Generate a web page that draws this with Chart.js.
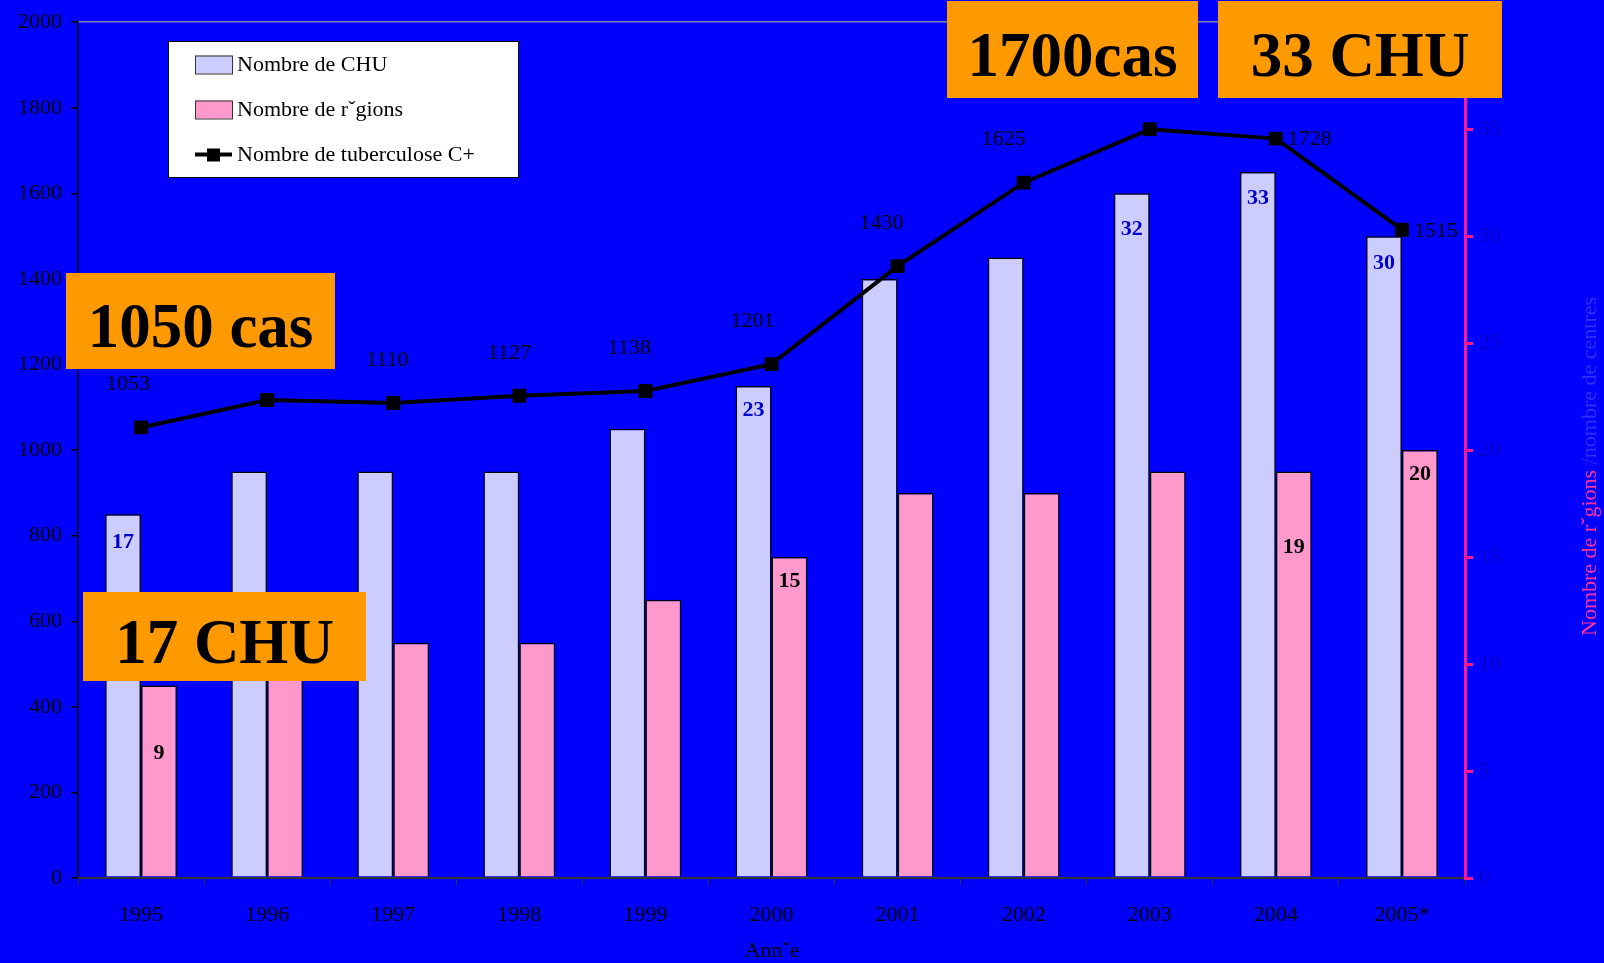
<!DOCTYPE html>
<html>
<head>
<meta charset="utf-8">
<script src="https://cdn.jsdelivr.net/npm/chart.js@4/dist/chart.umd.min.js"></script>
<style>
html, body { margin: 0; padding: 0; background: #0000ff; overflow: hidden; }
</style>
</head>
<body>
<canvas id="tbChart" width="1604" height="963"></canvas>
<script>
// Data
const years = ['1995', '1996', '1997', '1998', '1999', '2000', '2001', '2002', '2003', '2004', '2005*'];
const nbCHU = [17, 19, 19, 19, 21, 23, 28, 29, 32, 33, 30];
const nbRegions = [9, 10, 11, 11, 13, 15, 18, 18, 19, 19, 20];
const nbTuberculose = [1053, 1117, 1110, 1127, 1138, 1201, 1430, 1625, 1750, 1728, 1515];

// which values carry a printed label
const chuLabels = [17, null, null, null, null, 23, null, null, 32, 33, 30];
const regionLabels = [9, null, null, null, null, 15, null, null, null, 19, 20];

const leftTicks = [0, 200, 400, 600, 800, 1000, 1200, 1400, 1600, 1800, 2000];
const rightTicks = [0, 5, 10, 15, 20, 25, 30, 35, 40];

const SERIF = '"Liberation Serif", "Times New Roman", serif';
const CHU_COLOR = '#ccccff';
const REG_COLOR = '#ff99cc';
const BG = '#0000ff';
const ORANGE = '#ff9900';

// label placement (style only)
const chuLabelDy = [28, 0, 0, 0, 0, 24, 0, 0, 36, 26, 27];
const regionLabelDy = [68, 0, 0, 0, 0, 24, 0, 0, 0, 76, 24];
const lineLabelDx = [-13, -8, -6, -10, -16, -19, -16, -20, -15, 12, 12];
const lineLabelSide = ['above', 'above', 'above', 'above', 'above', 'above', 'above', 'above', 'above', 'right', 'right'];

const callouts = [
    { text: '1050 cas', x: 66, y: 273, w: 269, h: 96 },
    { text: '17 CHU', x: 83, y: 592, w: 283, h: 89 },
    { text: '1700cas', x: 947, y: 1, w: 251, h: 97 },
    { text: '33 CHU', x: 1218, y: 1, w: 284, h: 97 }
];

const bgPlugin = {
    id: 'bg',
    beforeDraw(chart) {
        const ctx = chart.ctx;
        ctx.save();
        ctx.fillStyle = BG;
        ctx.fillRect(0, 0, chart.width, chart.height);
        ctx.restore();
    }
};

const labelPlugin = {
    id: 'valueLabels',
    afterDatasetsDraw(chart) {
        const ctx = chart.ctx;
        ctx.save();
        ctx.textAlign = 'center';
        ctx.textBaseline = 'middle';

        // CHU bar labels
        ctx.font = 'bold 22px ' + SERIF;
        ctx.fillStyle = '#0000cc';
        chart.getDatasetMeta(0).data.forEach((bar, i) => {
            if (chuLabels[i] == null) return;
            ctx.fillText(String(chuLabels[i]), bar.x, bar.y + chuLabelDy[i]);
        });

        // regions bar labels
        ctx.fillStyle = '#000';
        chart.getDatasetMeta(1).data.forEach((bar, i) => {
            if (regionLabels[i] == null) return;
            ctx.fillText(String(regionLabels[i]), bar.x, bar.y + regionLabelDy[i]);
        });

        // line labels
        ctx.font = '22px ' + SERIF;
        chart.getDatasetMeta(2).data.forEach((pt, i) => {
            if (lineLabelSide[i] === 'right') {
                ctx.textAlign = 'left';
                ctx.fillText(String(nbTuberculose[i]), pt.x + lineLabelDx[i], pt.y + 1);
            } else {
                ctx.textAlign = 'center';
                ctx.fillText(String(nbTuberculose[i]), pt.x + lineLabelDx[i], pt.y - 43);
            }
        });
        ctx.restore();
    },
    afterDraw(chart) {
        const ctx = chart.ctx;
        ctx.save();

        // legend box
        ctx.fillStyle = '#fff';
        ctx.fillRect(168, 41, 350, 136);
        ctx.strokeStyle = '#000';
        ctx.lineWidth = 1;
        ctx.strokeRect(168.5, 41.5, 350, 136);

        const rows = [64.5, 109.5, 154.5];
        const names = ['Nombre de CHU', 'Nombre de rˇgions', 'Nombre de tuberculose C+'];
        ctx.font = '22px ' + SERIF;
        ctx.textAlign = 'left';
        ctx.textBaseline = 'middle';
        [CHU_COLOR, REG_COLOR].forEach((c, i) => {
            ctx.fillStyle = c;
            ctx.fillRect(195, rows[i] - 9, 37, 18);
            ctx.strokeStyle = '#333';
            ctx.strokeRect(195.5, rows[i] - 8.5, 37, 18);
        });
        ctx.strokeStyle = '#000';
        ctx.lineWidth = 4;
        ctx.beginPath();
        ctx.moveTo(195, rows[2]);
        ctx.lineTo(232, rows[2]);
        ctx.stroke();
        ctx.fillStyle = '#000';
        ctx.fillRect(207, rows[2] - 6, 13, 13);
        names.forEach((n, i) => {
            ctx.fillStyle = '#000';
            ctx.fillText(n, 237, rows[i] + 1);
        });

        // axis titles
        ctx.fillStyle = '#000';
        ctx.textAlign = 'center';
        ctx.fillText('Annˇe', 772, 951);

        ctx.save();
        ctx.translate(1590, 636);
        ctx.rotate(-Math.PI / 2);
        ctx.textAlign = 'left';
        const part1 = 'Nombre de rˇgions';
        ctx.fillStyle = '#ff3399';
        ctx.fillText(part1, 0, 0);
        const w1 = ctx.measureText(part1 + ' ').width;
        ctx.fillStyle = '#3030ff';
        ctx.fillText('/nombre de centres', w1, 0);
        ctx.restore();

        // orange callouts on top of everything
        ctx.font = 'bold 63px ' + SERIF;
        ctx.textAlign = 'center';
        ctx.textBaseline = 'alphabetic';
        callouts.forEach(b => {
            ctx.fillStyle = ORANGE;
            ctx.fillRect(b.x, b.y, b.w, b.h);
            ctx.fillStyle = '#000';
            ctx.fillText(b.text, b.x + b.w / 2, b.y + b.h / 2 + 26);
        });
        ctx.restore();
    }
};

const ctx = document.getElementById('tbChart').getContext('2d');
new Chart(ctx, {
    type: 'bar',
    data: {
        labels: years,
        datasets: [
            {
                label: 'Nombre de CHU',
                data: nbCHU,
                yAxisID: 'y1',
                backgroundColor: CHU_COLOR,
                borderColor: '#000',
                borderWidth: 1.5,
                categoryPercentage: 0.57,
                barPercentage: 1,
                order: 2
            },
            {
                label: 'Nombre de rˇgions',
                data: nbRegions,
                yAxisID: 'y1',
                backgroundColor: REG_COLOR,
                borderColor: '#000',
                borderWidth: 1.5,
                categoryPercentage: 0.57,
                barPercentage: 1,
                order: 2
            },
            {
                type: 'line',
                label: 'Nombre de tuberculose C+',
                data: nbTuberculose,
                yAxisID: 'y',
                borderColor: '#000',
                borderWidth: 4,
                backgroundColor: '#000',
                pointStyle: 'rect',
                pointRadius: 7,
                pointBackgroundColor: '#000',
                pointBorderColor: '#000',
                tension: 0,
                order: 0
            }
        ]
    },
    options: {
        responsive: false,
        animation: false,
        devicePixelRatio: 1,
        layout: { padding: { top: 22, left: 0, right: 0, bottom: 0 } },
        plugins: {
            legend: { display: false },
            tooltip: { enabled: false }
        },
        scales: {
            x: {
                offset: true,
                grid: {
                    offset: true,
                    color: 'transparent',
                    tickColor: '#333',
                    tickLength: 7
                },
                border: { color: '#333', width: 2 },
                ticks: {
                    color: '#000',
                    font: { family: SERIF, size: 22 },
                    padding: 17,
                    maxRotation: 0
                },
                afterFit(scale) { scale.height = 85; }
            },
            y: {
                position: 'left',
                min: 0,
                max: 2000,
                afterBuildTicks(scale) { scale.ticks = leftTicks.map(v => ({ value: v })); },
                grid: {
                    color: c => (c.tick && c.tick.value === 2000) ? '#8080b0' : 'transparent',
                    lineWidth: 1.5,
                    tickColor: '#000',
                    tickLength: 7
                },
                border: { color: '#000', width: 1.5 },
                ticks: {
                    color: '#000',
                    font: { family: SERIF, size: 22 },
                    padding: 9,
                    callback: v => String(v)
                },
                afterFit(scale) { scale.width = 78; }
            },
            y1: {
                position: 'right',
                min: 0,
                max: 40,
                afterBuildTicks(scale) { scale.ticks = rightTicks.map(v => ({ value: v })); },
                grid: {
                    drawOnChartArea: false,
                    tickColor: '#ff1a8c',
                    tickLength: 8,
                    lineWidth: 3
                },
                border: { color: '#ff1a8c', width: 3 },
                ticks: {
                    color: '#0000c8',
                    font: { family: SERIF, size: 22 },
                    padding: 6,
                    callback: v => String(v)
                },
                afterFit(scale) { scale.width = 139; }
            }
        }
    },
    plugins: [bgPlugin, labelPlugin]
});
</script>
</body>
</html>
